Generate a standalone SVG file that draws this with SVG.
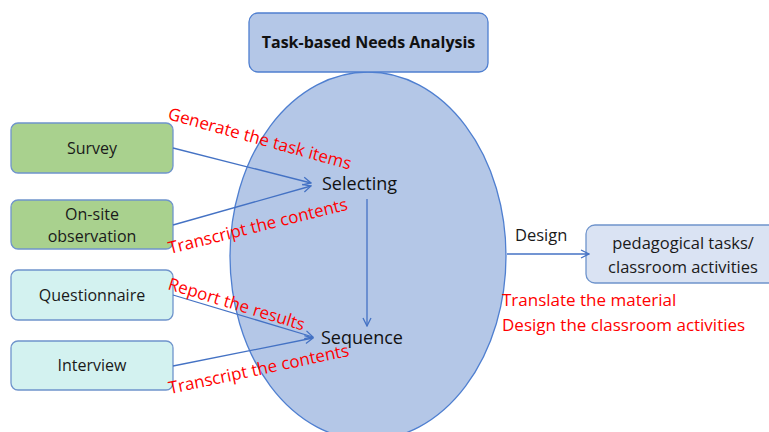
<svg xmlns="http://www.w3.org/2000/svg" width="769" height="432" viewBox="0 0 769 432">
  <style>
    text { font-family: "Open Sans", "Liberation Sans", sans-serif; }
    .lbl { font-size: 16px; fill: #1a1a1a; text-anchor: middle; }
    .big { font-size: 18px; fill: #111; }
    .red { font-size: 17px; fill: #ff0000; }
    .green { fill: #a9d18e; stroke: #6f94cc; stroke-width: 1.3; }
    .cyan { fill: #d3f2f0; stroke: #6f94cc; stroke-width: 1.3; }
    .blue { fill: #b4c7e7; stroke: #4f7fd0; stroke-width: 1.3; }
    .conn { stroke: #4472c4; stroke-width: 1.3; fill: none; marker-end: url(#arr); }
  </style>
  <defs>
    <marker id="arr" viewBox="0 0 10 10" refX="9" refY="5" markerWidth="10" markerHeight="10" markerUnits="userSpaceOnUse" orient="auto">
      <path d="M1,1 L9,5 L1,9" fill="none" stroke="#4472c4" stroke-width="1.3"/>
    </marker>
  </defs>

  <g id="analysis">
    <ellipse class="blue" cx="368" cy="256" rx="138" ry="184"/>
    <text class="big" x="322" y="190">Selecting</text>
    <text class="big" x="321" y="344">Sequence</text>
  </g>

  <g id="title">
    <rect class="blue" x="249" y="13" width="239" height="59" rx="9"/>
    <text x="368.5" y="48" text-anchor="middle" font-size="16" font-weight="bold" fill="#111">Task-based Needs Analysis</text>
  </g>

  <g id="survey">
    <rect class="green" x="11" y="123" width="162" height="50" rx="7"/>
    <text class="lbl" x="92" y="154">Survey</text>
  </g>
  <g id="observation">
    <rect class="green" x="11" y="200" width="162" height="49" rx="7"/>
    <text class="lbl" x="92" y="220">On-site</text>
    <text class="lbl" x="92" y="242">observation</text>
  </g>
  <g id="questionnaire">
    <rect class="cyan" x="11" y="270" width="162" height="50" rx="7"/>
    <text class="lbl" x="92" y="301">Questionnaire</text>
  </g>
  <g id="interview">
    <rect class="cyan" x="11" y="341" width="162" height="49" rx="7"/>
    <text class="lbl" x="92" y="371">Interview</text>
  </g>
  <g id="pedagogical">
    <rect fill="#dae3f3" stroke="#6f94cc" stroke-width="1.3" x="586" y="225" width="200" height="58" rx="9"/>
    <text class="lbl" x="683" y="249" style="font-size:16.5px">pedagogical tasks/</text>
    <text class="lbl" x="683" y="273" style="font-size:16.5px">classroom activities</text>
  </g>

  <g id="connectors">
    <line class="conn" x1="173" y1="148" x2="311" y2="183"/>
    <line class="conn" x1="173" y1="225" x2="311" y2="186"/>
    <line class="conn" x1="367" y1="199" x2="367" y2="326"/>
    <line class="conn" x1="173" y1="295" x2="313" y2="337"/>
    <line class="conn" x1="173" y1="366" x2="313" y2="338"/>
    <line class="conn" x1="507" y1="254" x2="589" y2="254"/>
  </g>

  <g id="edge-labels">
    <text class="red" transform="translate(167,119) rotate(15.5)">Generate the task items</text>
    <text class="red" transform="translate(170,254) rotate(-14)">Transcript the contents</text>
    <text class="red" transform="translate(167,289) rotate(17)">Report the results</text>
    <text class="red" transform="translate(170,394) rotate(-12)">Transcript the contents</text>
    <text x="515" y="241" font-size="16.5" fill="#1a1a1a">Design</text>
    <text class="red" x="502" y="306">Translate the material</text>
    <text class="red" x="502" y="331">Design the classroom activities</text>
  </g>
</svg>
